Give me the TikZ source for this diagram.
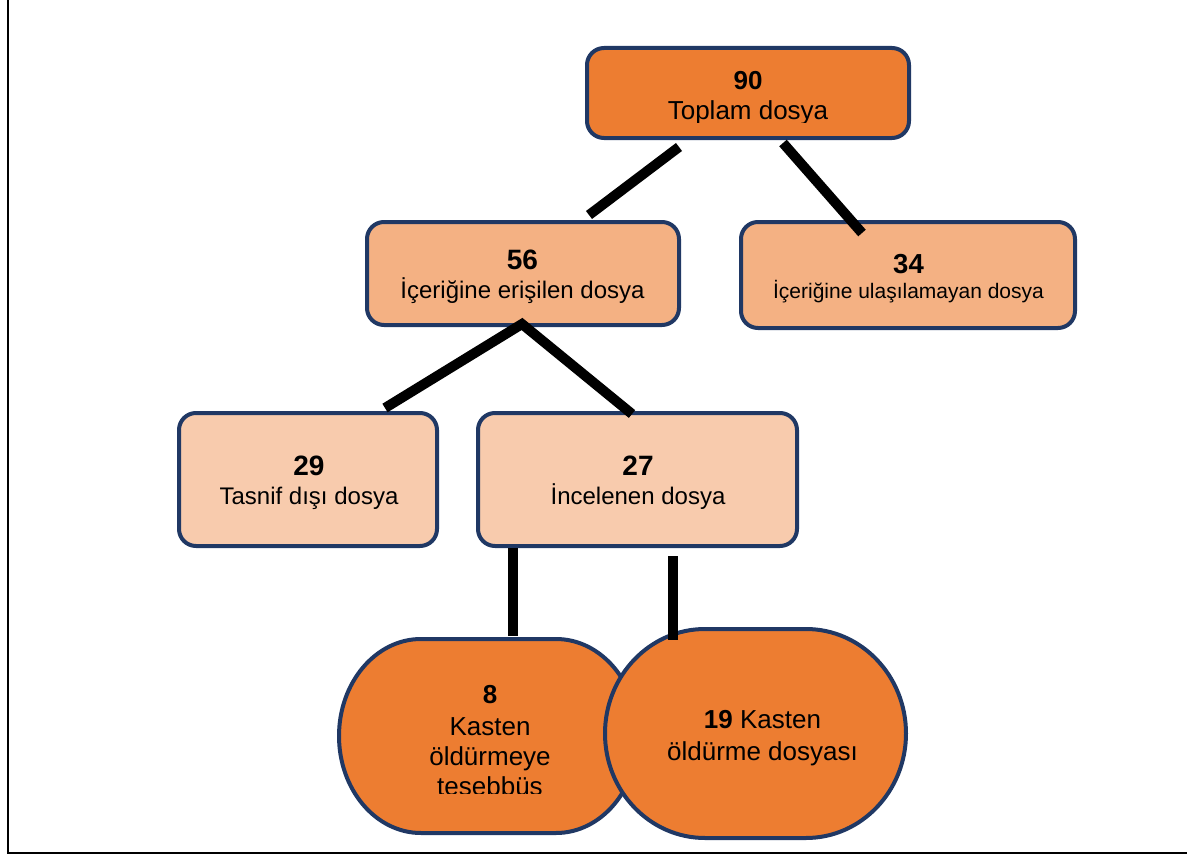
\documentclass[tikz,border=0pt]{standalone}
\usepackage{fontspec}
\setmainfont{Liberation Sans}
\definecolor{navy}{HTML}{203864}
\definecolor{orangeA}{HTML}{ED7D31}
\definecolor{orangeB}{HTML}{F4B183}
\definecolor{orangeC}{HTML}{F8CBAD}
\tikzset{
  box/.style={draw=navy, line width=4pt, rounded corners=17pt, inner sep=0pt},
  oval/.style={draw=navy, line width=4pt, fill=orangeA},
  conn/.style={line width=10pt, black},
  frameline/.style={line width=2.5pt, black},
  txt/.style={anchor=base, inner sep=0pt},
}
\newcommand{\fsz}[1]{\fontsize{#1}{#1}\selectfont}
\begin{document}
\begin{tikzpicture}[x=1pt, y=-1pt]
\useasboundingbox (0,0) rectangle (1187,859);
% frame
\coordinate (f1) at (8,0);
\coordinate (f2) at (8,853);
\coordinate (f3) at (1187,853);
\draw[frameline] (f1) -- (f2) -- (f3);

% boxes
\node[box, fill=orangeA, minimum width=322pt, minimum height=90pt] (top) at (748,93) {};
\node[box, fill=orangeB, minimum width=312pt, minimum height=103pt] (n56) at (523,273.5) {};
\node[box, fill=orangeB, minimum width=334pt, minimum height=106pt] (n34) at (908,275) {};
\node[box, fill=orangeC, minimum width=258pt, minimum height=133pt] (n29) at (308,479.5) {};
\node[box, fill=orangeC, minimum width=319pt, minimum height=133pt] (n27) at (637.5,479.5) {};

% ovals
\coordinate (k8) at (488.5,736);
\coordinate (k19) at (755.5,733.5);
\path[oval] (421,639) -- (556,639) .. controls (601.3,639) and (638,682.5) .. (638,736)
  .. controls (638,789.5) and (601.3,833) .. (556,833) -- (421,833)
  .. controls (375.7,833) and (339,789.5) .. (339,736)
  .. controls (339,682.5) and (375.7,639) .. (421,639) -- cycle;
\path[oval] (705,629) -- (806,629) .. controls (861.2,629) and (906,675.8) .. (906,733.5)
  .. controls (906,791.2) and (861.2,838) .. (806,838) -- (705,838)
  .. controls (649.8,838) and (605,791.2) .. (605,733.5)
  .. controls (605,675.8) and (649.8,629) .. (705,629) -- cycle;

% texts
\node[txt, font=\fsz{26}\bfseries] (t90) at (748,90) {90};
\begin{scope}
\clip (590,95) rectangle (906,122);
\node[txt, font=\fsz{26}] (t90b) at (748,120) {Toplam dosya};
\end{scope}
\node[txt, font=\fsz{28}\bfseries] (t56) at (522.5,269) {56};
\node[txt, font=\fsz{24}] (t56b) at (522.5,298) {İçeriğine erişilen dosya};
\node[txt, font=\fsz{27.5}\bfseries] (t34) at (908.5,273) {34};
\node[txt, font=\fsz{21}] (t34b) at (908.5,298) {İçeriğine ulaşılamayan dosya};
\node[txt, font=\fsz{28}\bfseries] (t29) at (309,475) {29};
\node[txt, font=\fsz{24}] (t29b) at (309,504) {Tasnif dışı dosya};
\node[txt, font=\fsz{28}\bfseries] (t27) at (638,475) {27};
\node[txt, font=\fsz{24}] (t27b) at (638,504) {İncelenen dosya};

\node[txt, font=\fsz{26}\bfseries] (t8) at (490,703) {8};
\node[txt, font=\fsz{26}] (t8b) at (490,735) {Kasten};
\node[txt, font=\fsz{26}] (t8c) at (490,765) {öldürmeye};
\begin{scope}
\clip (400,770) rectangle (580,793.5);
\node[txt, font=\fsz{26}] (t8d) at (490,795) {teşebbüs};
\end{scope}
\node[txt, font=\fsz{26}] (t19) at (762.5,728) {\textbf{19} Kasten};
\node[txt, font=\fsz{26}] (t19b) at (762.5,760) {öldürme dosyası};

% connectors
\coordinate (c1a) at (679,147);
\coordinate (c1b) at (589,215);
\coordinate (c2a) at (783,143);
\coordinate (c2b) at (862,233);
\coordinate (c3a) at (522,324);
\coordinate (c3b) at (385,408);
\coordinate (c4b) at (632,414);
\coordinate (c5a) at (513,548);
\coordinate (c5b) at (513,636);
\coordinate (c6a) at (673,556);
\coordinate (c6b) at (673,640);
\draw[conn] (c1a) -- (c1b);
\draw[conn] (c2a) -- (c2b);
\draw[conn] (c3b) -- (c3a) -- (c4b);
\draw[conn] (c5a) -- (c5b);
\draw[conn] (c6a) -- (c6b);
\end{tikzpicture}
\end{document}
